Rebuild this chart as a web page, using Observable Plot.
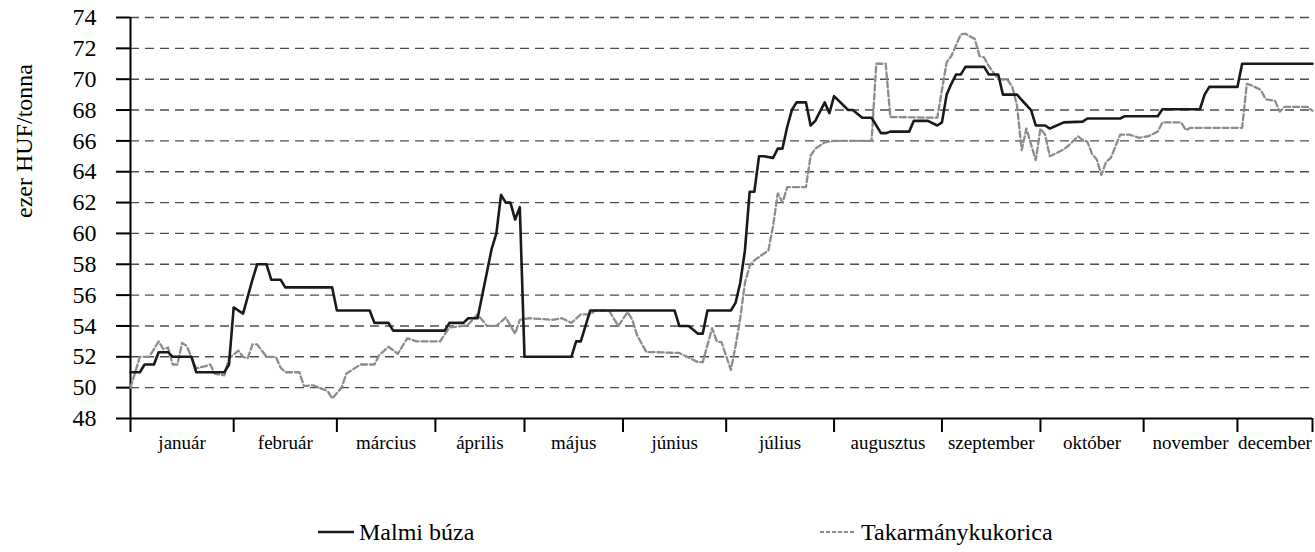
<!DOCTYPE html>
<html><head><meta charset="utf-8">
<script src="https://cdn.jsdelivr.net/npm/d3@7"></script>
<script src="https://cdn.jsdelivr.net/npm/@observablehq/plot@0.6"></script>
<style>
body{margin:0;background:#fff;font-family:"Liberation Serif","Times New Roman",serif;}
#chart{position:relative;width:1315px;height:552px;overflow:hidden;}
#legend{position:absolute;left:0;top:516px;width:1315px;height:32px;font-size:24px;color:#000;font-family:"Liberation Serif","Times New Roman",serif;}
.item{position:absolute;top:0;height:32px;display:flex;align-items:center;white-space:nowrap;}
.item svg{margin-right:5px;}
</style></head><body>
<div id="chart"></div>
<script>
// Month names and trading-day index of month boundaries
const monthNames = ["január","február","március","április","május","június","július","augusztus","szeptember","október","november","december"];
const monthBounds = [0, 22, 44, 65, 84, 105, 127, 150, 173, 194, 216, 236, 252];
const yTicks = [48,50,52,54,56,58,60,62,64,66,68,70,72,74];
const yLabel = "ezer HUF/tonna";
const seriesNames = ["Malmi búza", "Takarmánykukorica"];

// Malmi búza (trading day, ezer HUF/tonna)
const wheatDays = [0,2,3,5,6,8,9,13,14,20,21,22,24,26,27,29,30,32,33,43,44,51,52,55,56,67,68,71,72,74,75,77,78,79,80,81,82,83,84,94,95,96,98,116,117,119,121,122,123,128,129,130,131,132,133,134,135,137,138,139,140,141,142,144,145,146,148,149,150,153,154,156,158,160,161,162,166,167,170,172,173,174,175,176,177,178,182,183,185,186,189,190,192,193,195,196,199,203,204,211,212,219,220,228,229,230,236,237,252];
const wheatValues = [51.0,51.0,51.5,51.5,52.3,52.3,52.0,52.0,51.0,51.0,51.5,55.2,54.8,57.0,58.0,58.0,57.0,57.0,56.5,56.5,55.0,55.0,54.2,54.2,53.7,53.7,54.2,54.2,54.5,54.5,56.0,59.0,60.0,62.5,62.0,62.0,60.9,61.7,52.0,52.0,53.0,53.0,55.0,55.0,54.0,54.0,53.5,53.5,55.0,55.0,55.5,56.8,58.9,62.7,62.7,65.0,65.0,64.9,65.5,65.5,66.9,68.0,68.5,68.5,67.0,67.3,68.5,67.8,68.9,68.0,68.0,67.5,67.5,66.5,66.5,66.6,66.6,67.3,67.3,67.0,67.2,69.0,69.7,70.3,70.3,70.8,70.8,70.3,70.3,69.0,69.0,68.65,68.0,67.0,67.0,66.8,67.2,67.25,67.45,67.45,67.6,67.6,68.05,68.05,69.0,69.5,69.5,71.0,71.0];

// Takarmánykukorica (trading day, ezer HUF/tonna)
const cornDays = [0,2,4,6,7,8,9,10,11,12,14,16,17,18,20,21,23,24,25,26,27,29,31,32,33,36,37,39,41,42,43,45,46,49,52,53,55,57,59,61,66,68,71,72,74,76,78,80,82,83,85,90,92,94,96,98,99,102,104,106,107,108,110,112,117,119,121,122,124,125,126,128,129,130,131,132,133,136,137,138,139,140,144,145,146,148,150,158,159,161,162,172,174,175,177,178,180,181,182,183,185,187,188,189,190,191,193,194,195,196,199,200,202,203,204,205,206,207,208,209,211,213,215,217,219,220,224,225,226,237,238,239,241,242,244,245,246,251,252];
const cornValues = [50.0,52.0,52.0,53.0,52.5,52.6,51.5,51.5,52.9,52.7,51.25,51.4,51.5,50.9,50.8,51.9,52.4,52.0,51.9,52.8,52.8,52.0,52.0,51.3,51.0,51.0,50.1,50.15,49.9,49.8,49.3,50.0,50.9,51.5,51.5,52.1,52.65,52.2,53.2,53.0,53.0,53.9,54.0,54.1,54.75,54.0,54.0,54.55,53.5,54.4,54.5,54.4,54.5,54.2,54.75,54.75,55.0,55.0,54.0,54.9,54.4,53.4,52.3,52.3,52.25,51.95,51.65,51.65,53.85,53.0,52.95,51.15,52.7,54.5,56.8,57.9,58.25,58.9,60.5,62.6,62.0,63.0,63.0,65.05,65.5,65.9,66.0,66.0,71.0,71.0,67.55,67.5,71.1,71.5,72.9,72.95,72.6,71.5,71.4,70.85,70.0,69.95,69.5,68.3,65.4,66.8,64.75,66.8,66.4,65.0,65.45,65.7,66.3,66.05,65.95,65.15,64.8,63.8,64.65,64.9,66.4,66.4,66.2,66.3,66.6,67.2,67.2,66.7,66.85,66.85,69.7,69.6,69.3,68.7,68.6,67.9,68.2,68.2,67.95];

const wheat = wheatDays.map((d, i) => ({day: d, value: wheatValues[i]}));
const corn = cornDays.map((d, i) => ({day: d, value: cornValues[i]}));
const monthMids = monthNames.map((n, i) => (monthBounds[i] + monthBounds[i + 1]) / 2);
const nameByMid = new Map(monthMids.map((m, i) => [m, monthNames[i]]));

const chart = Plot.plot({
  width: 1315, height: 470,
  marginLeft: 130, marginRight: 3, marginTop: 17, marginBottom: 52,
  style: {fontFamily: "'Liberation Serif', 'Times New Roman', serif", fontSize: "24px", color: "#000", background: "#fff", overflow: "visible"},
  x: {domain: [0, 252], axis: null},
  y: {domain: [48, 74], axis: null},
  marks: [
    Plot.ruleY(yTicks.filter(t => t > 48), {stroke: "#4d4d4d", strokeDasharray: "9,6", strokeWidth: 1.4}),
    Plot.axisY({ticks: yTicks, label: null, tickSize: 14, tickPadding: 20, fontSize: 24, strokeWidth: 2, stroke: "#000", tickFormat: d => String(d)}),
    Plot.axisX({ticks: monthBounds, label: null, tickSize: 14, strokeWidth: 2, stroke: "#000", tickFormat: () => ""}),
    Plot.axisX({ticks: monthMids, label: null, tickSize: 0, tickPadding: 17, fontSize: 19, tickFormat: d => nameByMid.get(d)}),
    Plot.ruleX([0], {y1: 48, y2: 74, stroke: "#000", strokeWidth: 2}),
    Plot.ruleY([48], {stroke: "#000", strokeWidth: 2}),
    Plot.text([yLabel], {frameAnchor: "left", dx: -106, rotate: -90, fontSize: 24, fill: "#000"}),
    Plot.line(corn, {x: "day", y: "value", stroke: "#8c8c8c", strokeWidth: 2.3, strokeDasharray: "6,3"}),
    Plot.line(wheat, {x: "day", y: "value", stroke: "#1a1a1a", strokeWidth: 2.6})
  ]
});
const host = document.getElementById("chart");
host.appendChild(chart);

const legend = document.createElement("div");
legend.id = "legend";
const items = [
  {name: seriesNames[0], left: 318, stroke: "#1a1a1a", dash: null, w: 2.6, len: 36},
  {name: seriesNames[1], left: 820, stroke: "#8c8c8c", dash: "4,2", w: 2, len: 36}
];
for (const it of items) {
  const d = document.createElement("div");
  d.className = "item";
  d.style.left = it.left + "px";
  d.innerHTML = `<svg width="${it.len}" height="10"><line x1="0" x2="${it.len}" y1="5" y2="5" stroke="${it.stroke}" stroke-width="${it.w}" ${it.dash ? `stroke-dasharray="${it.dash}"` : ""}/></svg><span>${it.name}</span>`;
  legend.appendChild(d);
}
host.appendChild(legend);
</script>
</body></html>
